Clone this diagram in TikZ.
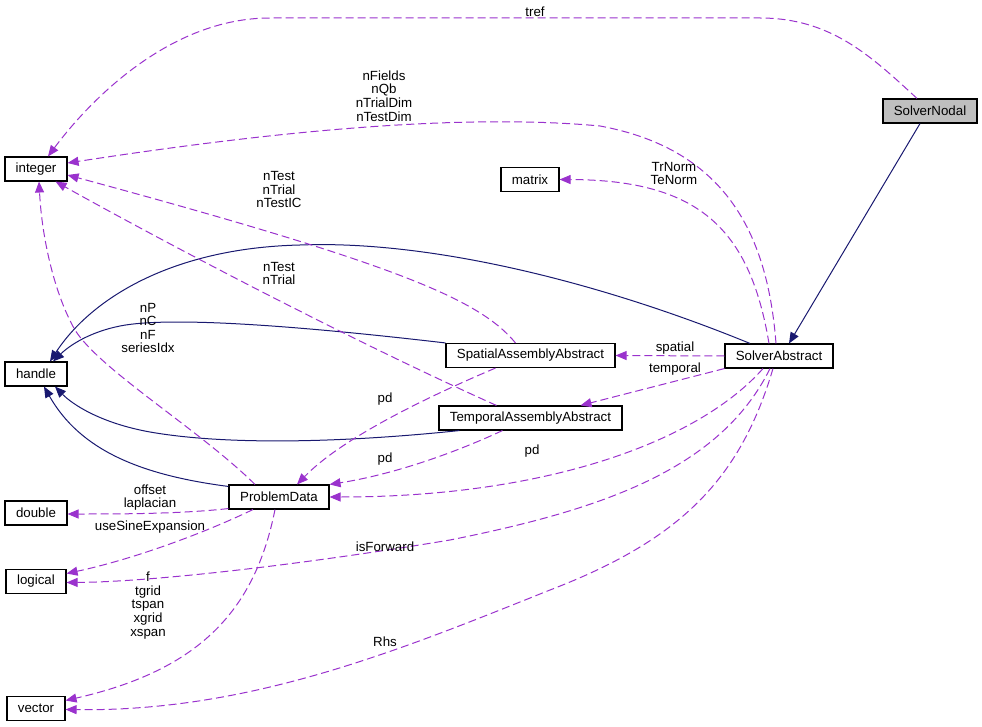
\documentclass[tikz,border=0pt]{standalone}
\usepackage{fontspec}
\setmainfont{Liberation Sans}
\usetikzlibrary{arrows.meta}
\definecolor{edgepurple}{HTML}{9A32CD}
\definecolor{edgeblue}{HTML}{191970}
\begin{document}
\begin{tikzpicture}[
      x=1pt, y=-1pt,
      font=\fontsize{13.3}{13.6}\selectfont,
      box/.style={draw, line width=1.1pt, fill=white, minimum height=24pt, inner sep=0pt, align=center},
      lbl/.style={align=center, inner sep=0pt},
      inh/.style={-{Triangle[length=11pt, width=9pt]}, draw=edgeblue, line width=1pt},
      uses/.style={-{Triangle[length=11pt, width=9pt]}, draw=edgepurple, line width=1pt, dash pattern=on 8pt off 4pt}
    ]
      \useasboundingbox (0,0) rectangle (982,727);
      \node[box, minimum width=94pt, fill=black!25] (nodal) at (930,111) {SolverNodal};
      \node[box, minimum width=108pt] (abstract) at (779,356) {SolverAbstract};
      \node[box, minimum width=169pt] (spatial) at (530.5,355.5) {SpatialAssemblyAbstract};
      \node[box, minimum width=183pt] (temporal) at (530.5,418) {TemporalAssemblyAbstract};
      \node[box, minimum width=100pt] (problem) at (279,497) {ProblemData};
      \node[box, minimum width=62pt] (integer) at (36,169) {integer};
      \node[box, minimum width=58pt] (matrix) at (530,179.5) {matrix};
      \node[box, minimum width=62pt] (handle) at (36,374) {handle};
      \node[box, minimum width=62pt] (double) at (36,513) {double};
      \node[box, minimum width=60pt] (logical) at (36,581.5) {logical};
      \node[box, minimum width=58pt] (vector) at (36,708.5) {vector};

      \draw[inh] ([xshift=-10pt]nodal.south) -- ([xshift=10pt]abstract.north);
      \draw[inh] ([xshift=-29pt]abstract.north) .. controls (600,282) and (430,240) .. (300,245) .. controls (170,248) and (90,300) .. ([xshift=14pt]handle.north);
      \draw[inh] (spatial.north west) .. controls (300,326) and (170,316) .. (120,326) .. controls (90,332) and (70,345) .. ([xshift=17pt]handle.north);
      \draw[inh] ([xshift=21pt]temporal.south west) .. controls (350,442) and (230,446) .. (150,432) .. controls (100,423) and (72,404) .. ([xshift=19pt]handle.south);
      \draw[inh] ([yshift=-2pt]problem.north west) .. controls (140,475) and (80,450) .. ([xshift=8pt]handle.south);

      \draw[uses] ([xshift=-13pt]nodal.north) .. controls (870,55) and (830,18) .. (760,18) -- (270,18) .. controls (170,18) and (90,100) .. ([xshift=12pt]integer.north);
      \draw[uses] ([xshift=-3pt]abstract.north) .. controls (768,240) and (730,150) .. (600,126) .. controls (450,112) and (250,135) .. ([yshift=6pt]integer.east);
      \draw[uses] ([xshift=-10pt]abstract.north) .. controls (750,230) and (700,180) .. (matrix.east);
      \draw[uses] ([xshift=-15pt]spatial.north) .. controls (480,300) and (400,265) .. ([yshift=-6pt]integer.east);
      \draw[uses] ([xshift=-34pt]temporal.north) .. controls (350,340) and (160,240) .. ([xshift=-12pt]integer.south east);
      \draw[uses] ([xshift=-24pt]problem.north) .. controls (200,430) and (100,370) .. (75,330) .. controls (55,295) and (42,240) .. ([xshift=3pt]integer.south);
      \draw[uses] (abstract.west) -- (spatial.east);
      \draw[uses] (abstract.south west) -- ([xshift=50pt]temporal.north);
      \draw[uses] ([xshift=-35pt]spatial.south) .. controls (420,400) and (340,440) .. ([xshift=18pt]problem.north);
      \draw[uses] ([xshift=-28pt]temporal.south) .. controls (450,455) and (390,475) .. (problem.north east);
      \draw[uses] ([xshift=-16pt]abstract.south) .. controls (700,440) and (550,497) .. (problem.east);
      \draw[uses] ([xshift=-9pt]abstract.south) .. controls (720,470) and (600,510) .. (450,540) .. controls (300,565) and (150,582) .. ([yshift=-1pt]logical.east);
      \draw[uses] ([xshift=-6pt]abstract.south) .. controls (740,480) and (680,540) .. (550,590) .. controls (400,650) and (250,712) .. ([yshift=-1pt]vector.east);
      \draw[uses] ([yshift=1pt]problem.south west) .. controls (180,514) and (120,514) .. ([yshift=-1pt]double.east);
      \draw[uses] ([xshift=-26pt]problem.south) .. controls (200,535) and (130,560) .. ([yshift=8pt]logical.east);
      \draw[uses] ([xshift=-4pt]problem.south) .. controls (255,610) and (200,670) .. ([yshift=8pt]vector.east);

      \node[lbl] (lTref) at (535,12) {tref};
      \node[lbl] (lInteger) at (384,96) {nFields\\nQb\\nTrialDim\\nTestDim};
      \node[lbl] (lNorm) at (674,173.5) {TrNorm\\TeNorm};
      \node[lbl] (lSpatialInt) at (279,189.5) {nTest\\nTrial\\nTestIC};
      \node[lbl] (lTemporalInt) at (279,273.5) {nTest\\nTrial};
      \node[lbl] (lHandle) at (148,328) {nP\\nC\\nF\\seriesIdx};
      \node[lbl] (lSpatial) at (675,348) {spatial};
      \node[lbl] (lTemporal) at (675,369) {temporal};
      \node[lbl] (lPdSpatial) at (385,399) {pd};
      \node[lbl] (lPdTemporal) at (385,459) {pd};
      \node[lbl] (lPdSolver) at (532,451) {pd};
      \node[lbl] (lDouble) at (150,497.5) {offset\\laplacian};
      \node[lbl] (lSine) at (150,527) {useSineExpansion};
      \node[lbl] (lForward) at (385,547) {isForward};
      \node[lbl] (lVector) at (148,605.5) {f\\tgrid\\tspan\\xgrid\\xspan};
      \node[lbl] (lRhs) at (385,642) {Rhs};
    \end{tikzpicture}
\end{document}
